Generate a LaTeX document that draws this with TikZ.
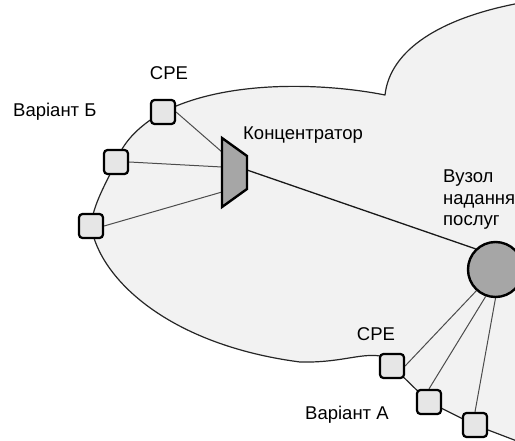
\documentclass[tikz,border=0pt]{standalone}
\usepackage{fontspec}
\setmainfont{Liberation Sans}
\usetikzlibrary{positioning,calc}
\pgfdeclarelayer{background}
\pgfsetlayers{background,main}
\definecolor{cloudgray}{HTML}{F2F2F2}
\definecolor{cpegray}{HTML}{E6E6E6}
\definecolor{hubgray}{HTML}{A6A6A6}

\begin{document}
\begin{tikzpicture}[x=1pt, y=-1pt, font=\fontsize{18.5}{21.5}\selectfont]
        % Style definitions
        \tikzset{
            cpe/.style={draw, fill=cpegray, rectangle, rounded corners=3.5pt, minimum size=24pt, inner sep=0pt, line width=2.2pt},
            bsn/.style={draw, fill=hubgray, circle, minimum size=55pt, inner sep=0pt, line width=2.4pt},
            hub/.style={draw, fill=hubgray, line width=2.4pt, line join=miter},
            cloud/.style={fill=cloudgray, draw=black!85, line width=1.2pt, line join=round},
            link/.style={draw=black!70, line width=1pt},
            trunk/.style={draw=black!90, line width=1.3pt},
            txt/.style={inner sep=0pt, anchor=base west}
        }
        \useasboundingbox (0,0) rectangle (515,441);
        \clip (0,0) rectangle (515,441);

        % Nodes
        \node [cpe] (b1) at (163,112) {};
        \node [cpe] (b2) at (116,162) {};
        \node [cpe] (b3) at (91,226) {};
        \node [cpe] (a1) at (392,366) {};
        \node [cpe] (a2) at (429,402) {};
        \node [cpe] (a3) at (475,425) {};
        \node [bsn] (bsn) at (495.5,269.5) {};
        \coordinate (conc) at (234.5,172.5);
        \draw [hub] ($(conc)+(-12.5,-34.5)$) -- ($(conc)+(12.5,-16.5)$) -- ($(conc)+(12.5,16.5)$) -- ($(conc)+(-12.5,34.5)$) -- cycle;

        % Labels
        \node [txt] (varb) at (13,117) {Варіант Б};
        \node [above=19pt of b1, xshift=6pt, inner sep=0pt] (cpeb) {CPE};
        \node [txt] (conclabel) at (243,140) {Концентратор};
        \node [align=left, inner sep=0pt, anchor=north west] (bsnlabel) at (443,170) {Вузол\\надання\\послуг};
        \node [above=12pt of a1, xshift=-16pt, inner sep=0pt] (cpea) {CPE};
        \node [txt] (vara) at (305,420) {Варіант А};

        % Cloud and connections
        \begin{pgfonlayer}{background}
            \clip (0,0) rectangle (515,441);
            \draw [cloud] (385,95) .. controls (330,84) and (230,78) .. (b1.center)
                .. controls (135,128) and (122,145) .. (b2.center)
                .. controls (105,185) and (93,205) .. (b3.center)
                .. controls (100,280) and (170,345) .. (300,362)
                .. controls (340,363) and (360,353) .. (380,356)
                -- (a1.center) -- (a2.center) -- (a3.center) -- (530,446) -- (530,-5) -- (520,3)
                .. controls (440,18) and (390,50) .. (385,95) -- cycle;
            \draw [link] (b1.east) -- ($(conc)+(-12.5,-20.5)$);
            \draw [link] (b2.east) -- ($(conc)+(-12.5,-5.5)$);
            \draw [link] (b3.east) -- ($(conc)+(-12.5,19.5)$);
            \draw [trunk] ($(conc)+(12.5,-2.5)$) -- (bsn.134);
            \draw [link] (bsn.228) -- (a1.east);
            \draw [link] (bsn.250) -- (a2.north);
            \draw [link] (bsn.270) -- (a3.north);
        \end{pgfonlayer}
    \end{tikzpicture}
\end{document}
